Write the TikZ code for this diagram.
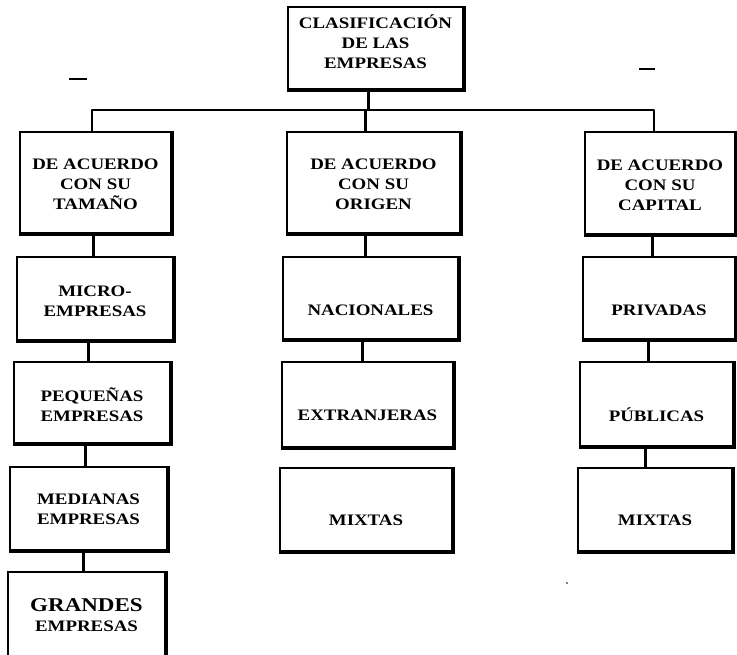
\documentclass[tikz,border=0pt]{standalone}
\usepackage{fontspec}
\setmainfont{Liberation Serif}[FakeStretch=1.18]
\begin{document}
\begin{tikzpicture}[x=1pt,y=-1pt,
  bx/.style={draw=black,line width=2pt,fill=white,inner sep=0pt},
  txt/.style={inner sep=0pt,align=center,font=\bfseries\fontsize{16}{20}\selectfont},
  ln/.style={draw=black,line width=3pt},
  bus/.style={draw=black,line width=2.6pt,line join=round},
  shadowedge/.style={draw=black,line width=3.6pt}]
\useasboundingbox (0,0) rectangle (737,654);
\clip (0,0) rectangle (737,654);
% box: name, x1,y1,x2,y2, text, text shift
\newcommand{\mybox}[7]{%
  \node[bx,minimum width={#4-#2},minimum height={#5-#3}] (#1) at ({(#2+#4)/2},{(#3+#5)/2}) {};
  \draw[shadowedge] (#1.north east) -- (#1.south east) -- (#1.south west);
  \node[txt] (#1t) at ([yshift=#7]#1.center) {#6};}
\mybox{top}{288}{7}{463}{89}{CLASIFICACIÓN\\DE LAS\\EMPRESAS}{6pt}
\mybox{l1}{20}{132}{171}{233}{DE ACUERDO\\CON SU\\TAMAÑO}{-2pt}
\mybox{l2}{17}{257}{173}{340}{MICRO-\\EMPRESAS}{-3pt}
\mybox{l3}{14}{362}{170}{443}{PEQUEÑAS\\EMPRESAS}{-2pt}
\mybox{l4}{10}{467}{167}{550}{MEDIANAS\\EMPRESAS}{-1pt}
\mybox{l5}{8}{572}{165}{680}{{\fontsize{19.5}{22}\selectfont GRANDES}\\EMPRESAS}{11pt}
\mybox{m1}{287}{132}{460}{233}{DE ACUERDO\\CON SU\\ORIGEN}{-2pt}
\mybox{m2}{283}{257}{458}{339}{NACIONALES}{-12pt}
\mybox{m3}{282}{362}{453}{447}{EXTRANJERAS}{-11pt}
\mybox{m4}{280}{468}{452}{551}{MIXTAS}{-11pt}
\mybox{r1}{585}{132}{735}{234}{DE ACUERDO\\CON SU\\CAPITAL}{-2pt}
\mybox{r2}{583}{257}{735}{339}{PRIVADAS}{-12pt}
\mybox{r3}{580}{362}{733}{446}{PÚBLICAS}{-11pt}
\mybox{r4}{578}{468}{732}{551}{MIXTAS}{-11pt}
% bus
\coordinate (busc) at (368,110);
\draw[ln] ([xshift=-7.5pt]top.south) -- (busc);
\draw[bus] ([xshift=-3.5pt]l1.north) |- (busc) -| ([xshift=-6pt]r1.north);
\draw[ln] ([xshift=-8.5pt]m1.north) -- ([xshift=-8.5pt]m1.north |- busc);
% column connectors
\draw[ln] ([xshift=-2.5pt]l1.south) -- ([xshift=-2pt]l2.north);
\draw[ln] ([xshift=-7pt]l2.south) -- ([xshift=-4pt]l3.north);
\draw[ln] ([xshift=-7pt]l3.south) -- ([xshift=-3.5pt]l4.north);
\draw[ln] ([xshift=-5.5pt]l4.south) -- ([xshift=-3.5pt]l5.north);
\draw[ln] ([xshift=-8.5pt]m1.south) -- ([xshift=-5.5pt]m2.north);
\draw[ln] ([xshift=-8.5pt]m2.south) -- ([xshift=-5.5pt]m3.north);
\draw[ln] ([xshift=-8pt]r1.south) -- ([xshift=-7pt]r2.north);
\draw[ln] ([xshift=-11pt]r2.south) -- ([xshift=-8.5pt]r3.north);
\draw[ln] ([xshift=-11.5pt]r3.south) -- ([xshift=-10pt]r4.north);
% stray marks
\coordinate (d1a) at (69,79); \coordinate (d1b) at (87,79);
\coordinate (d2a) at (639,69); \coordinate (d2b) at (655,69);
\draw[line width=1.4pt] (d1a) -- (d1b);
\draw[line width=1.4pt] (d2a) -- (d2b);
\fill (567,583) circle (0.9);
\end{tikzpicture}
\end{document}
